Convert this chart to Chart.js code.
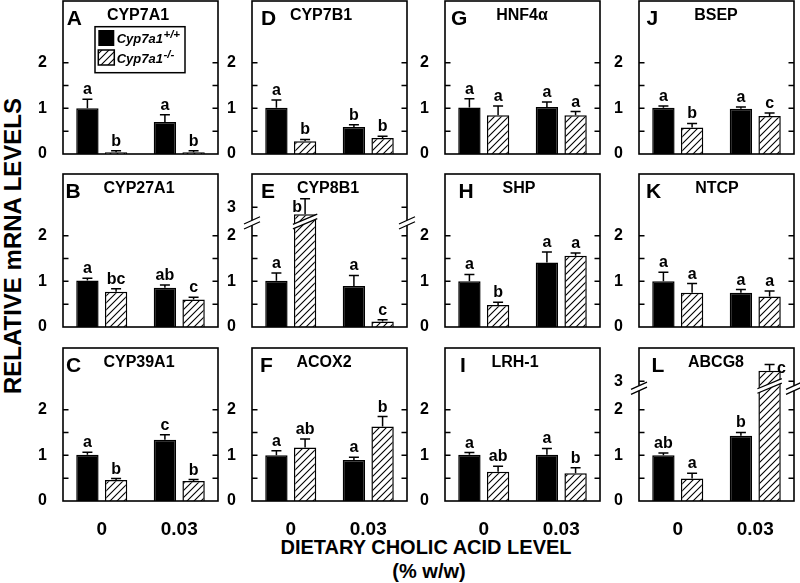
<!DOCTYPE html>
<html><head><meta charset="utf-8">
<script src="https://cdn.jsdelivr.net/npm/chart.js@4.4.1/dist/chart.umd.min.js"></script>
<style>
html,body{margin:0;padding:0;background:#fff;}
#wrap{position:relative;width:800px;height:583px;overflow:hidden;font-family:'Liberation Sans',Arial,Helvetica,sans-serif;font-weight:bold;color:#000;background:#fff;}
#wrap canvas{position:absolute;}
.ytitle{position:absolute;left:13px;top:245.5px;transform:translate(-50%,-50%) rotate(-90deg);font-size:24px;white-space:nowrap;line-height:1;}
.xtitle{position:absolute;transform:translate(-50%,-50%);font-size:20px;white-space:nowrap;line-height:1;}
</style></head>
<body><div id="wrap">
<div class="ytitle">RELATIVE mRNA LEVELS</div>
<div class="xtitle" style="left:426px;top:547px">DIETARY CHOLIC ACID LEVEL</div>
<div class="xtitle" style="left:429px;top:571px">(% w/w)</div>
</div>
<script>
// ---------------- data ----------------
const panelLetters = ['A','B','C','D','E','F','G','H','I','J','K','L'];
const geneNames = ['CYP7A1','CYP27A1','CYP39A1','CYP7B1','CYP8B1','ACOX2','HNF4α','SHP','LRH-1','BSEP','NTCP','ABCG8'];
const dietLevels = ['0','0.03'];
const seriesNames = ['Cyp7a1','Cyp7a1'];
const seriesSup = ['+/+','-/-'];
const wtMeans = [[1.00,0.70],[1.02,0.86],[1.01,1.34],[1.01,0.59],[1.01,0.90],[1.00,0.90],[1.02,1.03],[1.00,1.41],[1.01,1.01],[1.01,0.99],[1.00,0.75],[1.00,1.43]];
const wtErrors = [[0.20,0.16],[0.05,0.06],[0.06,0.11],[0.17,0.05],[0.17,0.23],[0.10,0.06],[0.19,0.11],[0.15,0.23],[0.05,0.14],[0.04,0.04],[0.20,0.07],[0.05,0.07]];
const koMeans = [[0.04,0.04],[0.77,0.60],[0.46,0.44],[0.28,0.35],[2.85,0.12],[1.17,1.63],[0.85,0.85],[0.48,1.56],[0.64,0.61],[0.58,0.83],[0.75,0.67],[0.49,3.23]];
const koErrors = [[0.03,0.03],[0.07,0.05],[0.03,0.03],[0.04,0.04],[0.34,0.04],[0.19,0.22],[0.20,0.08],[0.06,0.06],[0.12,0.12],[0.09,0.07],[0.20,0.12],[0.12,0.14]];
const wtLetters = [['a','a'],['a','ab'],['a','c'],['a','b'],['a','a'],['a','a'],['a','a'],['a','a'],['a','a'],['a','a'],['a','a'],['ab','b']];
const koLetters = [['b','b'],['bc','c'],['b','b'],['b','b'],['b','c'],['ab','b'],['a','a'],['b','a'],['ab','b'],['b','c'],['a','a'],['a','c']];
const yTickValues = [0,0.5,1,1.5,2];
const brokenTickValues = [0,0.5,1,1.5,2,3];
const brokenPanels = ['E','L'];
const BREAK_AT = 2.4, BREAK_SHIFT = 0.38;

// ---------------- layout / style ----------------
const FONT = "'Liberation Sans', Arial, Helvetica, sans-serif";
const colLeft = [63, 252, 445, 639];
const rowTop = [1, 174, 348];
const FW = 155, FH = 153, AXW = 50, PADR = 9, PADT = 2, PADB = 12, XAXH = 40;
const YMAX = 3.35;
const letterDx = [3.7, 2.5, 3, 9, 9, 8, 6, 13.5, 15, 7.5, 7, 12.5];
const geneCx = [75, 76, 76, 69, 76, 72, 77, 74, 70, 77, 78, 77];
const geneSize = [16,16,16,16,16,16,16,16,16,16,16,16];
const breakMarkAt = {E: 2.28, L: 2.47};
const letterPlacement = {E: {ko: ['left','top']}, L: {ko: ['top','right']}};

Chart.defaults.font.family = FONT;
Chart.defaults.color = '#000';

function disp(v, broken){ return (broken && v > BREAK_AT) ? v - BREAK_SHIFT : v; }

function makeHatch(){
  const c = document.createElement('canvas'); c.width = 7; c.height = 7;
  const g = c.getContext('2d');
  g.fillStyle = '#fff'; g.fillRect(0,0,7,7);
  g.strokeStyle = '#000'; g.lineWidth = 1.1;
  g.beginPath();
  g.moveTo(-1,8); g.lineTo(8,-1);
  g.moveTo(-2,2); g.lineTo(2,-2);
  g.moveTo(5,9); g.lineTo(9,5);
  g.stroke();
  return g.createPattern(c,'repeat');
}
const hatch = makeHatch();

function drawBreak(ctx, x0, x1, cy, gap, slope){
  const cx = (x0 + x1) / 2;
  const yu = x => cy - gap/2 - slope*(x - cx);
  const yl = x => cy + gap/2 - slope*(x - cx);
  ctx.save();
  ctx.fillStyle = '#fff';
  ctx.beginPath();
  ctx.moveTo(x0, yu(x0)); ctx.lineTo(x1, yu(x1)); ctx.lineTo(x1, yl(x1)); ctx.lineTo(x0, yl(x0)); ctx.closePath();
  ctx.fill();
  ctx.strokeStyle = '#000'; ctx.lineWidth = 1.3;
  ctx.beginPath();
  ctx.moveTo(x0, yu(x0)); ctx.lineTo(x1, yu(x1));
  ctx.moveTo(x0, yl(x0)); ctx.lineTo(x1, yl(x1));
  ctx.stroke();
  ctx.restore();
}

function drawSup(ctx, name, sup, x, base){
  ctx.font = 'italic bold 13px ' + FONT;
  ctx.textAlign = 'left'; ctx.textBaseline = 'alphabetic';
  ctx.fillText(name, x, base);
  const w = ctx.measureText(name).width;
  ctx.font = 'italic bold 11.5px ' + FONT;
  ctx.fillText(sup, x + w + 0.5, base - 5.5);
}

function decorPlugin(i){
  const letter = panelLetters[i];
  const broken = brokenPanels.includes(letter);
  return {
    id: 'decor' + i,
    afterDatasetsDraw(chart){
      const ctx = chart.ctx, ca = chart.chartArea, y = chart.scales.y;
      ctx.save();
      ctx.strokeStyle = '#000'; ctx.fillStyle = '#000';
      const series = [[wtMeans, wtErrors, wtLetters, 'wt'], [koMeans, koErrors, koLetters, 'ko']];
      series.forEach((s, d) => {
        const meta = chart.getDatasetMeta(d);
        meta.data.forEach((bar, j) => {
          const m = s[0][i][j], e = s[1][i][j];
          const yTop = y.getPixelForValue(disp(m + e, broken));
          ctx.lineWidth = 1.5;
          ctx.beginPath();
          ctx.moveTo(bar.x, bar.y); ctx.lineTo(bar.x, yTop);
          ctx.moveTo(bar.x - 5, yTop); ctx.lineTo(bar.x + 5, yTop);
          ctx.stroke();
          const lp = letterPlacement[letter] && letterPlacement[letter][s[3]];
          const place = lp ? lp[j] : 'top';
          ctx.font = 'bold 16px ' + FONT; ctx.textBaseline = 'alphabetic';
          const txt = s[2][i][j];
          if (place === 'left') { ctx.textAlign = 'right'; ctx.fillText(txt, bar.x - 3, bar.y - 2); }
          else if (place === 'right') { ctx.textAlign = 'left'; ctx.fillText(txt, bar.x + 7.5, bar.y + 2.5); }
          else { ctx.textAlign = 'center'; ctx.fillText(txt, bar.x, yTop - 5); }
          if (broken && m > BREAK_AT) {
            const yb = y.getPixelForValue(breakMarkAt[letter] + (letter === 'E' ? 0.03 : 0.05));
            drawBreak(ctx, bar.x - bar.width/2 - 1, bar.x + bar.width/2 + 1, yb, 4.5, 0.42);
          }
        });
      });
      // frame
      ctx.lineWidth = 1.6; ctx.strokeStyle = '#000';
      ctx.strokeRect(ca.left, ca.top, ca.right - ca.left, ca.bottom - ca.top);
      // inner ticks on both sides
      ctx.lineWidth = 1.5;
      y.ticks.forEach(t => {
        if (t.value === 0) return;
        const py = y.getPixelForValue(t.value);
        ctx.beginPath();
        ctx.moveTo(ca.left, py); ctx.lineTo(ca.left + 5.5, py);
        ctx.moveTo(ca.right - 5.5, py); ctx.lineTo(ca.right, py);
        ctx.stroke();
      });
      if (broken) {
        const yb = y.getPixelForValue(breakMarkAt[letter]);
        drawBreak(ctx, ca.left - 8, ca.left + 8, yb, 5, 0.45);
        drawBreak(ctx, ca.right - 8, ca.right + 8, yb, 5, 0.45);
      }
      // panel letter and gene name
      ctx.fillStyle = '#000';
      ctx.textBaseline = 'alphabetic';
      ctx.font = 'bold 21px ' + FONT; ctx.textAlign = 'left';
      ctx.fillText(letter, ca.left + letterDx[i], ca.top + 23.5);
      ctx.font = 'bold ' + geneSize[i] + 'px ' + FONT; ctx.textAlign = 'center';
      ctx.fillText(geneNames[i], ca.left + geneCx[i], ca.top + 18.5);
      // legend (panel A)
      if (i === 0) {
        const lx = ca.left, ly = ca.top;
        ctx.lineWidth = 1.5;
        ctx.fillStyle = '#fff'; ctx.fillRect(lx + 32, ly + 25.7, 90, 46);
        ctx.strokeRect(lx + 32, ly + 25.7, 90, 46);
        ctx.fillStyle = '#000'; ctx.fillRect(lx + 35.3, ly + 29, 16, 16);
        ctx.fillStyle = hatch; ctx.fillRect(lx + 35.3, ly + 49, 16, 15);
        ctx.strokeRect(lx + 35.3, ly + 49, 16, 15);
        ctx.fillStyle = '#000';
        drawSup(ctx, seriesNames[0], seriesSup[0], lx + 53.7, ly + 42.3);
        drawSup(ctx, seriesNames[1], seriesSup[1], lx + 53.7, ly + 62.3);
      }
      ctx.restore();
    }
  };
}

const wrap = document.getElementById('wrap');
for (let i = 0; i < 12; i++) {
  const col = Math.floor(i / 3), row = i % 3;
  const bottomRow = row === 2;
  const broken = brokenPanels.includes(panelLetters[i]);
  const tickVals = broken ? brokenTickValues : yTickValues;
  const tickLabels = tickVals.map(v => Number.isInteger(v) ? String(v) : '');
  const W = AXW + FW + PADR;
  const H = PADT + FH + PADB + (bottomRow ? XAXH : 0);
  const cv = document.createElement('canvas');
  cv.width = W; cv.height = H;
  cv.style.left = (colLeft[col] - AXW) + 'px';
  cv.style.top = (rowTop[row] - PADT) + 'px';
  cv.style.width = W + 'px'; cv.style.height = H + 'px';
  wrap.appendChild(cv);
  new Chart(cv, {
    type: 'bar',
    data: {
      labels: dietLevels,
      datasets: [
        { label: seriesNames[0] + seriesSup[0], data: wtMeans[i].map(v => disp(v, broken)),
          backgroundColor: '#000', borderColor: '#000', borderWidth: 1.5 },
        { label: seriesNames[1] + seriesSup[1], data: koMeans[i].map(v => disp(v, broken)),
          backgroundColor: hatch, borderColor: '#000', borderWidth: 1.5 }
      ]
    },
    options: {
      responsive: false, devicePixelRatio: 1, animation: false,
      layout: { padding: { left: 0, right: PADR, top: PADT, bottom: PADB } },
      datasets: { bar: { categoryPercentage: 0.74, barPercentage: 0.78 } },
      plugins: { legend: { display: false }, tooltip: { enabled: false } },
      scales: {
        x: {
          type: 'category', offset: true,
          grid: { display: false }, border: { display: false },
          ticks: { display: bottomRow, font: { size: 19, weight: 'bold' }, color: '#000', padding: 9, maxRotation: 0 },
          afterFit(s) { s.height = bottomRow ? XAXH : 0; s.paddingLeft = 0; s.paddingRight = 0; }
        },
        y: {
          min: 0, max: YMAX,
          grid: { display: false }, border: { display: false },
          ticks: { font: { size: 16, weight: 'bold' }, color: '#000', padding: 8, autoSkip: false,
                   callback: (v, k) => tickLabels[k] },
          afterBuildTicks(s) { s.ticks = tickVals.map(v => ({ value: disp(v, broken) })); },
          afterFit(s) { s.width = AXW; s.paddingTop = 0; s.paddingBottom = 0; }
        }
      }
    },
    plugins: [decorPlugin(i)]
  });
}
</script>
</body></html>
